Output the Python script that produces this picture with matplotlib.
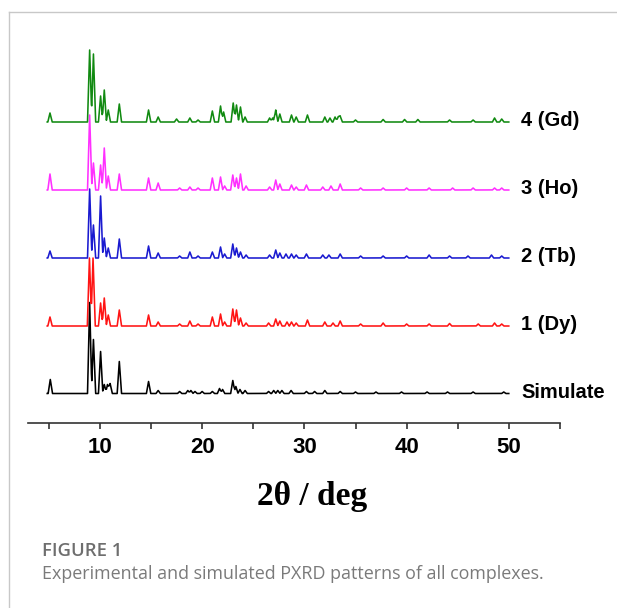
import numpy as np
import matplotlib
matplotlib.use("Agg")
import matplotlib.pyplot as plt
from matplotlib.lines import Line2D

# peak lists: 2theta (deg) and height (arb. units ~ px)
sim_pos = [5.15, 9.0, 9.37, 10.07, 10.43, 10.75, 11.0, 11.9, 14.76, 15.7, 17.8, 18.6, 18.9, 19.3,
           20.0, 21.0, 21.7, 22.0, 23.0, 23.3, 23.7, 24.2, 26.5, 27.0, 27.4, 27.8, 28.7, 30.2,
           31.0, 32.0, 33.5, 35.0, 37.0, 39.5, 42.0, 44.0, 46.5, 49.5]
sim_h = [14, 91, 54, 42, 9, 9, 10, 32, 12, 3, 2, 3, 3, 2,
         2, 2, 5, 4, 13, 7, 4, 3, 2, 3, 3, 3, 3, 2,
         2, 3, 2, 1.5, 1.5, 1.5, 1.5, 1.5, 1.5, 1.5]

dy_pos = [5.12, 8.98, 9.33, 10.07, 10.43, 10.82, 11.9, 14.76, 15.7, 17.8, 18.8, 19.6, 21.0, 21.8,
          22.2, 23.0, 23.36, 23.75, 24.3, 26.5, 27.2, 27.6, 28.3, 28.74, 29.2, 30.3, 32.0, 32.8,
          33.5, 35.5, 37.7, 40.0, 42.2, 44.2, 47.0, 48.6, 49.3]
dy_h = [9, 68, 68, 23, 28, 11, 16, 11, 4, 2, 5, 2, 9, 12,
        4, 17, 16, 8, 3, 3, 7, 5, 4, 4, 3, 6, 4, 3,
        5, 2, 3, 2, 2, 2.5, 2, 3, 2]

tb_pos = [5.12, 9.0, 9.37, 10.07, 10.43, 10.82, 11.9, 14.76, 15.7, 17.8, 18.8, 19.6, 21.0, 21.8,
          22.2, 23.0, 23.36, 23.75, 24.3, 26.6, 27.2, 27.6, 28.2, 28.74, 29.2, 30.2, 31.8, 32.4,
          33.5, 35.5, 37.7, 40.0, 42.2, 44.2, 46.0, 48.3, 49.3]
tb_h = [7, 69, 33, 62, 20, 10, 19, 12, 5, 2, 6, 2, 6, 11,
        4, 14, 10, 6, 3, 3, 8, 5, 4, 4, 3, 4, 3, 3,
        4, 2, 2, 2, 3, 2, 2, 3, 2]

ho_pos = [5.12, 9.0, 9.37, 10.07, 10.43, 10.82, 11.9, 14.76, 15.7, 17.8, 18.8, 19.6, 21.0, 21.8,
          22.2, 23.0, 23.36, 23.75, 24.3, 26.6, 27.2, 27.6, 28.74, 29.2, 30.2, 31.8, 32.6, 33.5,
          35.5, 37.7, 40.0, 42.2, 44.5, 46.5, 48.6, 49.3]
ho_h = [16, 75, 27, 25, 42, 14, 16, 12, 7, 2, 3, 2, 12, 13,
        4, 15, 12, 16, 4, 3, 10, 6, 5, 3, 5, 3, 4, 6,
        2, 2, 2, 2, 2, 2, 2, 2]

gd_pos = [5.12, 9.0, 9.37, 10.07, 10.43, 10.82, 11.9, 14.76, 15.7, 17.5, 18.8, 19.6, 21.0, 21.8,
          22.1, 23.04, 23.36, 23.75, 24.2, 26.6, 26.9, 27.2, 27.6, 28.74, 29.2, 30.3, 32.0, 32.5,
          33.0, 33.3, 33.5, 35.0, 37.7, 39.8, 41.1, 44.2, 46.5, 48.6, 49.3]
gd_h = [9, 72, 68, 26, 32, 12, 18, 12, 5, 3, 4, 2, 11, 16,
        10, 19, 17, 15, 5, 4, 4, 12, 8, 7, 5, 7, 5, 4,
        5, 5, 6, 2, 2.5, 2.5, 2.5, 2, 2, 4, 3]

names = ["Simulate", "1 (Dy)", "2 (Tb)", "3 (Ho)", "4 (Gd)"]
offsets = [0, 67.5, 135.5, 203.5, 271.5]
colors = ["#000000", "#ff1414", "#1a1ad0", "#ff30ff", "#118a11"]
peaks = [(sim_pos, sim_h), (dy_pos, dy_h), (tb_pos, tb_h), (ho_pos, ho_h), (gd_pos, gd_h)]

tt = np.arange(4.85, 50.0, 0.01)


def trace(pos, h, w=0.21):
    y = np.zeros_like(tt)
    for p, a in zip(pos, h):
        y += a * np.clip(1 - np.abs(tt - p) / w, 0, None)
    return y


fig = plt.figure(figsize=(6.17, 6.08), dpi=100)
ax = fig.add_axes([28 / 617, 185 / 608, 532 / 617, 403 / 608])

for (pos, h), off, c, name in zip(peaks, offsets, colors, names):
    ax.plot(tt, trace(pos, h) + off, color=c, lw=1.15)
    ax.text(51.2, off + 1, name, fontsize=14.5, fontweight="bold",
            family="Liberation Sans", va="center", ha="left")

ax.set_xlim(2.97, 54.97)
ax.set_ylim(-29.5, 373.5)
for s in ["top", "right", "left"]:
    ax.spines[s].set_visible(False)
ax.spines["bottom"].set_linewidth(1.2)
ax.spines["bottom"].set_color("#333333")
ax.set_yticks([])
ax.set_xticks([10, 20, 30, 40, 50])
ax.set_xticks([5, 15, 25, 35, 45, 55], minor=True)
ax.tick_params(axis="x", which="both", direction="out", length=4, width=1.2, color="#333333")
ax.tick_params(axis="x", which="major", pad=6)
for lab in ax.get_xticklabels():
    lab.set_fontsize(16)
    lab.set_fontweight("bold")
    lab.set_family("Liberation Sans")

fig.text(312 / 617, 1 - 497 / 608, "2θ / deg", fontsize=24, fontweight="bold",
         family="Liberation Serif", ha="center", va="center")

fig.text(41.5 / 617, 1 - 551 / 608, "FIGURE 1", fontsize=13.3, fontweight="semibold",
         family="Open Sans", color="#6e6e6e", va="center", ha="left")
fig.text(41.5 / 617, 1 - 574 / 608, "Experimental and simulated PXRD patterns of all complexes.",
         fontsize=12.9, family="Open Sans", color="#7a7a7a", va="center", ha="left")

# page frame
fig.add_artist(Line2D([9 / 617, 1], [1 - 12 / 608, 1 - 12 / 608], color="#c8c8c8", lw=1.0))
fig.add_artist(Line2D([9 / 617, 9 / 617], [0, 1 - 12 / 608], color="#c8c8c8", lw=1.0))

fig.savefig("out.png", dpi=100)
